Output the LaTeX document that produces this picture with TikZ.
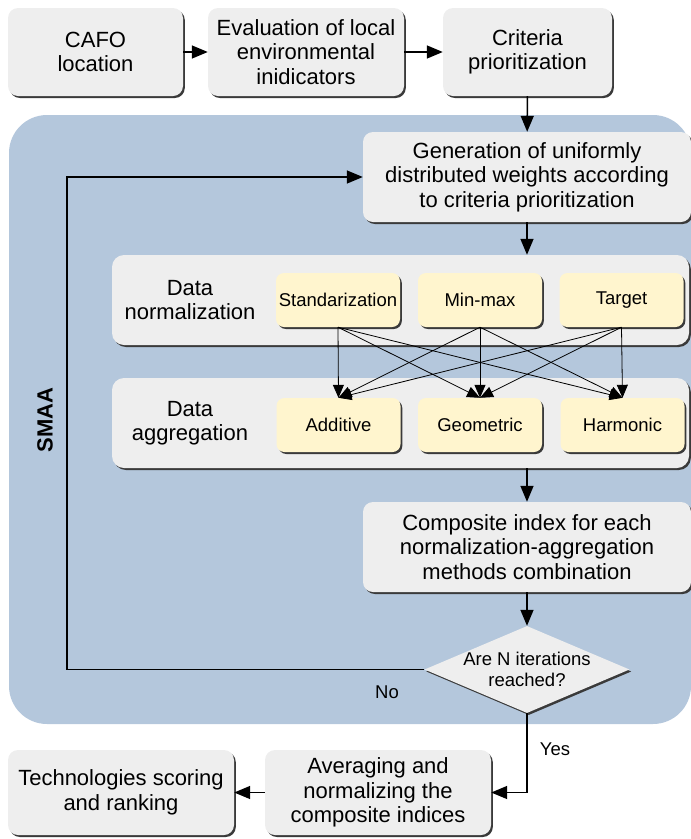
\documentclass[tikz,border=0pt]{standalone}
\usepackage{fontspec}
\setmainfont{Liberation Sans}
\usetikzlibrary{arrows.meta,shapes.geometric,shadows}

\definecolor{smaablue}{HTML}{B4C7DC}
\definecolor{boxgray}{HTML}{EEEEEE}
\definecolor{methodyellow}{HTML}{FFF5CE}
\definecolor{shadowgray}{HTML}{3A3A3A}

\tikzset{
  boxshadow/.style={drop shadow={shadow xshift=1.8pt,shadow yshift=-2pt,fill=shadowgray,opacity=1}},
  stepbox/.style={boxshadow,fill=boxgray,rounded corners=10pt,align=center,inner sep=0pt,
    font=\fontsize{22}{24.5}\selectfont},
  panel/.style={boxshadow,fill=boxgray,rounded corners=12pt,minimum width=577pt,
    minimum height=90pt,inner sep=0pt},
  method/.style={boxshadow,fill=methodyellow,rounded corners=8pt,minimum width=124pt,
    minimum height=54pt,inner sep=0pt,font=\fontsize{18.5}{21}\selectfont},
  decision/.style={diamond,boxshadow,fill=boxgray,aspect=2.36,minimum width=205pt,
    minimum height=87pt,inner sep=-5pt,align=center,font=\fontsize{18.5}{20.5}\selectfont},
  plaintext/.style={align=center,inner sep=0pt},
  flow/.style={line width=1.5pt,-{Triangle[length=16pt,width=13pt]}},
  mix/.style={line width=0.8pt,-{Triangle[length=13pt,width=11pt]}}
}

\begin{document}
\begin{tikzpicture}[x=1pt,y=-1pt]
    \useasboundingbox (0,0) rectangle (691,839);

    % SMAA
    \fill[smaablue,rounded corners=38pt] (9,115) rectangle (691,724);
    \node[plaintext,rotate=90,font=\bfseries\fontsize{22}{24}\selectfont] (smaa) at (45,420) {SMAA};

    % top row
    \node[stepbox,minimum width=175pt,minimum height=88pt] (cafo) at (95.5,52) {CAFO\\location};
    \node[stepbox,minimum width=196pt,minimum height=88pt] (eval) at (306,52) {Evaluation of local\\environmental\\inidicators};
    \node[stepbox,minimum width=169pt,minimum height=88pt] (crit) at (527.5,52) {Criteria\\prioritization};

    % weights
    \node[stepbox,minimum width=328pt,minimum height=90pt] (gen) at (527,177) {Generation of uniformly\\distributed weights according\\to criteria prioritization};

    % normalization and aggregation
    \node[panel] (norm) at (400.5,300) {};
    \node[panel] (agg) at (400.5,423) {};
    \node[plaintext,font=\fontsize{22}{24.5}\selectfont] (normtext) at (190,300) {Data\\normalization};
    \node[plaintext,font=\fontsize{22}{24.5}\selectfont] (aggtext) at (190,423) {Data\\aggregation};
    \node[method] (std) at (338,300) {Standarization};
    \node[method] (minmax) at (480,300) {Min-max};
    \node[method] (target) at (621.5,300) {Target};
    \node[method] (add) at (338.5,425) {Additive};
    \node[method] (geo) at (480,425) {Geometric};
    \node[method] (harm) at (622.5,425) {Harmonic};
    \foreach \src in {std,minmax,target}
        \foreach \dst in {add,geo,harm}
            \draw[mix] (\src.south) -- (\dst.north);

    % composite index and check
    \node[stepbox,minimum width=328pt,minimum height=90pt] (comp) at (527,547) {Composite index for each\\normalization-aggregation\\methods combination};
    \node[decision] (dec) at (527,669.5) {Are N iterations\\reached?};
    \coordinate (loop) at (67,176);
    \node[plaintext,font=\fontsize{18.5}{20}\selectfont] (no) at (387,692) {No};
    \node[plaintext,font=\fontsize{18.5}{20}\selectfont] (yes) at (555,749) {Yes};

    % bottom row
    \node[stepbox,minimum width=226pt,minimum height=85pt] (avg) at (378,792.5) {Averaging and\\normalizing the\\composite indices};
    \node[stepbox,minimum width=226pt,minimum height=85pt] (tech) at (121,792.5) {Technologies scoring\\and ranking};

    % connectors
    \draw[flow] (cafo) -- (eval);
    \draw[flow] (eval) -- (crit);
    \draw[flow] (crit) -- (gen);
    \draw[flow] (gen.south) -- (gen.south |- norm.north);
    \draw[flow] (comp.north |- agg.south) -- (comp.north);
    \draw[flow] (comp) -- (dec);
    \draw[flow] (dec.west) -| (loop |- gen.west) -- (gen.west);
    \draw[flow] (dec.south) |- (avg.east);
    \draw[flow] (avg) -- (tech);
\end{tikzpicture}
\end{document}
